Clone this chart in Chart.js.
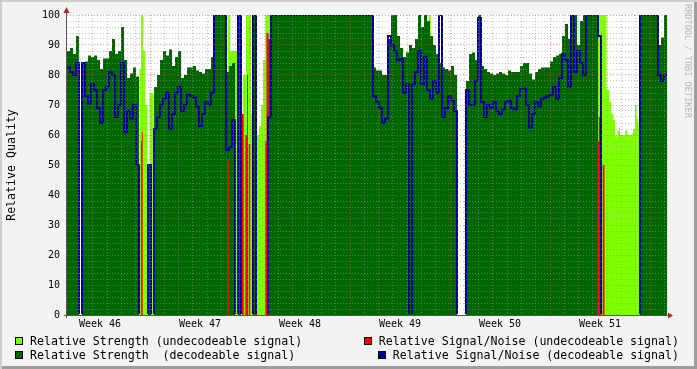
<!DOCTYPE html>
<html>
<head>
<meta charset="utf-8">
<script src="https://cdn.jsdelivr.net/npm/chart.js@4.4.1/dist/chart.umd.min.js"></script>
<style>
  body { margin: 0; background: #fff; }
  #wrap {
    position: relative; width: 697px; height: 369px; overflow: hidden;
    background: #f3f3f3;
    box-shadow: inset 2px 2px 0 #cfcfcf, inset -3px -3px 0 #9e9e9e;
    font-family: 'DejaVu Sans Mono', monospace;
  }
  canvas { position: absolute; left: 0; top: 0; }
  .lg { position: absolute; display: flex; align-items: center; font-size: 11.6px; line-height: 14px; white-space: pre; color: #000; }
  .lg i { display: inline-block; width: 8px; height: 8px; border: 1px solid #000; box-sizing: border-box; margin-right: 7px; }
  #wm { position: absolute; left: 683px; top: 4px; writing-mode: vertical-rl; font-size: 8.6px; line-height: 10px; color: #b8b8b8; white-space: pre; }
</style>
</head>
<body>
<div id="wrap">
  <canvas id="chart" width="697" height="369"></canvas>
  <div id="legend"></div>
  <div id="wm">RRDTOOL / TOBI OETIKER</div>
</div>
<script>
// one sample every 5.04 h, 42 days shown
const hoursPerSample = 5.04;
const spanHours = 1008;
const firstMidnight = 19.44; // hours from the left edge to the first midnight

// relative strength, decodeable signal (dark green area)
const strengthDecoded = [
  88, 89, 87, 93, 0, 84, 84.5, 86.5, 86, 86.5,
  85, 82, 85.5, 85.5, 88, 92, 87, 88, 96, 85,
  79, 80.5, 82.5, 79.5, 0, 0, 0, 50, 0, 76,
  80, 85, 88, 86.5, 88.5, 83, 86, 88, 79, 80,
  82.5, 82.5, 83, 81.5, 81, 80.5, 82, 82, 86, 100,
  100, 100, 100, 81, 83, 84, 0, 100, 0, 0,
  0, 0, 100, 0, 0, 0, 0, 92, 100, 100,
  100, 100, 100, 100, 100, 100, 100, 100, 100, 100,
  100, 100, 100, 100, 100, 100, 100, 100, 100, 100,
  100, 100, 100, 100, 100, 100, 100, 100, 100, 100,
  100, 100, 82.5, 81.5, 81.5, 80, 80, 92, 100, 100,
  93, 89, 86, 87.5, 90, 89, 92, 100, 96, 100,
  98, 93, 90, 87, 84, 82.5, 82, 81.5, 83, 80,
  0, 0, 0, 78, 87, 87.5, 85, 100, 83, 82,
  81, 80.5, 80, 80.5, 81, 80.5, 80, 81.5, 81, 81,
  81, 83, 84, 84, 80.5, 78.5, 81, 82, 82.5, 82.5,
  82.5, 84.5, 86, 86.5, 87, 93, 97, 92, 100, 100,
  90, 98, 100, 100, 100, 100, 100, 0, 0, 0,
  0, 0, 0, 0, 0, 0, 0, 0, 0, 0,
  0, 100, 100, 100, 100, 100, 100, 90, 92.5, 100,
  100
];

// relative signal/noise, decodeable signal (blue line)
const snrDecoded = [
  82.5, 81, 80, 84, 0, 84, 73, 70.5, 77, 75,
  69, 64, 75, 76, 81, 80, 66, 70, 84, 61,
  68, 65.5, 70, 50, 0, 0, 0, 50, 0, 62,
  66, 70, 72, 74, 62, 67, 74, 76, 68, 70,
  73.5, 73, 72.5, 69.5, 63, 67, 71, 70, 74, 100,
  100, 100, 100, 55, 56, 65, 0, 100, 0, 0,
  0, 0, 100, 0, 0, 0, 0, 66, 100, 100,
  100, 100, 100, 100, 100, 100, 100, 100, 100, 100,
  100, 100, 100, 100, 100, 100, 100, 100, 100, 100,
  100, 100, 100, 100, 100, 100, 100, 100, 100, 100,
  100, 100, 73, 71, 69, 64, 65.5, 93, 90, 88,
  85, 85.5, 74, 77, 0, 77, 81, 88, 77, 86,
  75, 72, 78, 74, 100, 66, 69, 73, 71.5, 68,
  0, 0, 0, 75, 70, 70, 78, 99, 71, 66,
  70, 69, 71, 68, 67, 68.5, 71, 71.5, 69, 68.5,
  73, 75.5, 75.5, 70, 62.5, 67, 71, 69.5, 72, 72.5,
  73, 73.5, 76, 72, 79, 87, 85, 76, 100, 81,
  88, 84, 80, 100, 100, 100, 100, 93, 0, 0,
  0, 0, 0, 0, 0, 0, 0, 0, 0, 0,
  0, 100, 100, 100, 100, 100, 100, 80, 78, 80,
  80
];

// relative strength, undecodeable signal: [hour, value]
const strengthUndecoded = [
  [121.5, 82], [124.3, 100], [127.7, 88], [131.0, 70], [134.9, 0], [138.6, 74], [145.3, 0],
  [270.0, 100], [274.3, 88], [288.5, 0], [295.2, 80], [300.7, 100], [309.1, 67], [312.0, 0],
  [316.3, 78], [319.2, 60], [322.6, 63], [325.9, 70], [329.3, 85], [333.1, 100], [343.2, 0],
  [607.7, 100], [611.0, 0],
  [890.7, 100], [906.4, 75], [910.6, 71], [913.9, 67], [917.8, 65], [920.6, 59.5], [924.5, 61.5],
  [927.4, 62.5], [929.0, 60], [937.4, 61.5], [941.3, 60], [948.7, 60.5], [950.9, 62], [954.2, 70],
  [957.1, 65.5], [959.8, 63.3], [962.6, 0]
];

// relative signal/noise, undecodeable signal: [hour, value]
const snrUndecoded = [
  [123.8, 58], [125.5, 61], [127.2, 0],
  [268.8, 52], [271.7, 0], [294.0, 67], [296.9, 0], [299.5, 60], [302.4, 80], [304.1, 0],
  [305.3, 57], [307.9, 0], [316.3, 48], [319.2, 0], [333.1, 58], [335.1, 94], [338.9, 0],
  [890.7, 58], [893.5, 66], [897.3, 0], [900.0, 50], [903.4, 0]
];

const weekLabels = ['Week 46', 'Week 47', 'Week 48', 'Week 49', 'Week 50', 'Week 51'];

const labels = {
  strengthUndecoded: 'Relative Strength (undecodeable signal)',
  strengthDecoded: 'Relative Strength  (decodeable signal)',
  snrUndecoded: 'Relative Signal/Noise (undecodeable signal)',
  snrDecoded: 'Relative Signal/Noise (decodeable signal)'
};
const colors = {
  strengthUndecoded: '#80ff00',
  strengthDecoded: '#006600',
  snrUndecoded: '#ff0000',
  snrDecoded: '#000099'
};

// half-day ticks: midnights get a gridline, Thursday noons carry the week label
const xTicks = [];
for (let k = 0; firstMidnight + 12 * k <= spanHours; k++) {
  const value = firstMidnight + 12 * k;
  let kind = 'day';
  if (k % 2 === 1) kind = 'noon';
  else if ((k / 2) % 7 === 5) kind = 'monday';
  const label = (k - 3) % 14 === 0 ? weekLabels[(k - 3) / 14] || '' : '';
  xTicks.push({ value, kind, label });
}

const minorGrid = 'rgba(150,150,150,0.55)';
const majorGrid = 'rgba(220,90,90,0.6)';

const samples = arr => arr.map((v, i) => ({ x: i * hoursPerSample, y: v }));
const pairs = arr => arr.map(([x, y]) => ({ x, y }));

const frame = {
  id: 'frame',
  beforeDraw(chart) {
    const { ctx, chartArea: a } = chart;
    ctx.save();
    ctx.fillStyle = '#fff';
    ctx.fillRect(a.left, a.top, a.right - a.left, a.bottom - a.top);
    ctx.restore();
  },
  afterDraw(chart) {
    const { ctx, chartArea: a } = chart;
    ctx.save();
    ctx.strokeStyle = '#555';
    ctx.lineWidth = 1;
    ctx.beginPath();
    ctx.moveTo(a.left - 0.5, a.bottom + 3);
    ctx.lineTo(a.left - 0.5, a.top - 4);
    ctx.moveTo(a.left - 3, a.bottom + 0.5);
    ctx.lineTo(a.right + 2, a.bottom + 0.5);
    ctx.stroke();
    ctx.fillStyle = '#a52a2a';
    ctx.beginPath();
    ctx.moveTo(a.left - 0.5, a.top - 8);
    ctx.lineTo(a.left - 3.5, a.top - 2);
    ctx.lineTo(a.left + 2.5, a.top - 2);
    ctx.fill();
    ctx.beginPath();
    ctx.moveTo(a.right + 6, a.bottom + 0.5);
    ctx.lineTo(a.right + 1, a.bottom - 2.5);
    ctx.lineTo(a.right + 1, a.bottom + 3.5);
    ctx.fill();
    ctx.restore();
  }
};

Chart.defaults.font.family = "'DejaVu Sans Mono', monospace";
Chart.defaults.color = '#000';

new Chart(document.getElementById('chart'), {
  type: 'line',
  data: {
    // first dataset is drawn on top
    datasets: [
      {
        label: labels.snrDecoded, data: samples(snrDecoded),
        borderColor: colors.snrDecoded, borderWidth: 2, stepped: true, fill: false,
        clip: { left: 0, right: 0, top: 0, bottom: -1 }
      },
      {
        label: labels.snrUndecoded, data: pairs(snrUndecoded),
        borderColor: 'rgba(0,0,0,0)', borderWidth: 0, backgroundColor: colors.snrUndecoded,
        stepped: true, fill: 'origin'
      },
      {
        label: labels.strengthDecoded, data: samples(strengthDecoded),
        borderColor: 'rgba(0,0,0,0)', borderWidth: 0, backgroundColor: colors.strengthDecoded,
        stepped: true, fill: 'origin'
      },
      {
        label: labels.strengthUndecoded, data: pairs(strengthUndecoded),
        borderColor: 'rgba(0,0,0,0)', borderWidth: 0, backgroundColor: colors.strengthUndecoded,
        stepped: true, fill: 'origin'
      }
    ]
  },
  options: {
    responsive: false,
    animation: false,
    layout: { padding: { left: 0, top: 15, right: 30, bottom: 0 } },
    elements: { point: { radius: 0 } },
    plugins: { legend: { display: false }, tooltip: { enabled: false } },
    scales: {
      x: {
        type: 'linear', min: 0, max: spanHours,
        afterBuildTicks: scale => { scale.ticks = xTicks.map(t => ({ value: t.value })); },
        afterFit: scale => { scale.height = 54; },
        border: { display: false, dash: [1, 2] },
        grid: {
          z: 1, drawTicks: false, lineWidth: 1,
          color: ctx => {
            const t = xTicks[ctx.index];
            if (!t || t.kind === 'noon') return 'rgba(0,0,0,0)';
            return t.kind === 'monday' ? majorGrid : minorGrid;
          }
        },
        ticks: {
          autoSkip: false, maxRotation: 0, padding: 3,
          font: { size: 10 },
          callback: (v, i) => (xTicks[i] ? xTicks[i].label : '')
        }
      },
      y: {
        min: 0, max: 100,
        afterFit: scale => { scale.width = 67; },
        border: { display: false, dash: [1, 2] },
        grid: {
          z: 1, drawTicks: false, lineWidth: 1,
          color: ctx => {
            const v = ctx.tick ? ctx.tick.value : 0;
            if (v === 0) return 'rgba(0,0,0,0)';
            return v % 10 === 0 ? majorGrid : minorGrid;
          }
        },
        ticks: {
          stepSize: 2, autoSkip: false, padding: 7,
          font: { size: 10 },
          callback: v => (v % 10 === 0 ? v : '')
        },
        title: {
          display: true, text: 'Relative Quality',
          font: { size: 11.6 }, padding: { top: 5, bottom: 0 }
        }
      }
    }
  },
  plugins: [frame]
});

// legend laid out like the rrdtool one: two columns, right column right-aligned
const legend = document.getElementById('legend');
const entries = [
  { key: 'strengthUndecoded', side: 'left', top: 334 },
  { key: 'strengthDecoded', side: 'left', top: 348 },
  { key: 'snrUndecoded', side: 'right', top: 334 },
  { key: 'snrDecoded', side: 'right', top: 348 }
];
entries.forEach(e => {
  const row = document.createElement('div');
  row.className = 'lg';
  row.style.top = e.top + 'px';
  if (e.side === 'left') row.style.left = '15px';
  else row.style.right = '18px';
  const box = document.createElement('i');
  box.style.background = colors[e.key];
  const text = document.createElement('span');
  text.textContent = labels[e.key];
  row.appendChild(box);
  row.appendChild(text);
  legend.appendChild(row);
});
</script>
</body>
</html>
